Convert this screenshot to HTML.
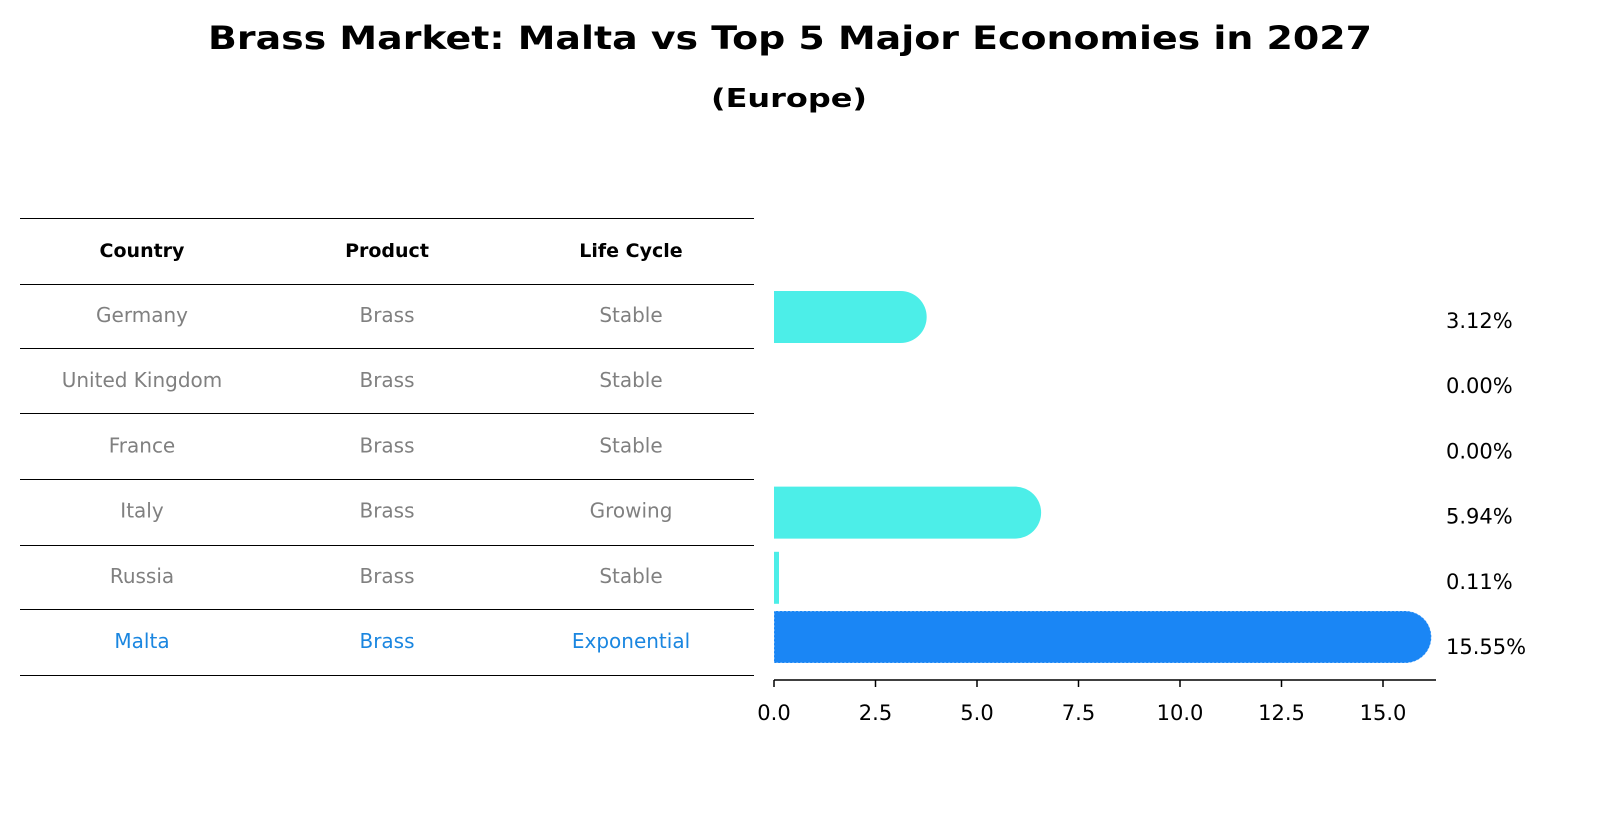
<!DOCTYPE html>
<html><head><meta charset="utf-8"><style>
body{margin:0;background:#fff;width:1604px;height:823px;overflow:hidden}
svg{font-family:"DejaVu Sans","Liberation Sans",sans-serif}
</style></head><body>
<svg id="c" width="1604" height="823">
<text x="790" y="49" text-anchor="middle" font-size="32" font-weight="bold" textLength="1164" lengthAdjust="spacingAndGlyphs">Brass Market: Malta vs Top 5 Major Economies in 2027</text>
<text x="789" y="107" text-anchor="middle" font-size="26" font-weight="bold" textLength="156" lengthAdjust="spacingAndGlyphs">(Europe)</text>
<g id="tbl"></g>
<g id="bars"></g>
</svg>
<script>
const countries=["Germany","United Kingdom","France","Italy","Russia","Malta"];
const products=["Brass","Brass","Brass","Brass","Brass","Brass"];
const lifecycles=["Stable","Stable","Stable","Growing","Stable","Exponential"];
const values=[3.12,0,0,5.94,0.11,15.55];
const ticks=[0,2.5,5,7.5,10,12.5,15];
const NS="http://www.w3.org/2000/svg";
function mk(t,a,p){const e=document.createElementNS(NS,t);for(const k in a)e.setAttribute(k,a[k]);p.appendChild(e);return e;}
const tbl=document.getElementById('tbl'),bars=document.getElementById('bars');
const x=v=>774+v*40.6;
const rowY=i=>315+i*65.2;
const lines=[218,284,348,413,479,545,609,675];
lines.forEach(y=>{const l=mk('line',{x1:20,x2:754,y1:y+0.5,y2:y+0.5,stroke:'#000','stroke-width':1},tbl);

});
const cols=[142,387,631];
["Country","Product","Life Cycle"].forEach((h,j)=>{const t=mk('text',{x:cols[j],y:257,'text-anchor':'middle','font-size':19,'font-weight':'bold'},tbl);t.textContent=h;

});
countries.forEach((c,i)=>{const col=i==5?'#1a86e0':'#808080';
[c,products[i],lifecycles[i]].forEach((s,j)=>{const t=mk('text',{x:cols[j],y:rowY(i)+7,'text-anchor':'middle','font-size':20,fill:col},tbl);t.textContent=s;

});
const v=values[i],cy=i==5?637:rowY(i)+2,h=52,r=26;
if(v>0){const w=x(v)-x(0);let b;
if(i==5||w>r){b=mk('path',{d:`M${x(0)},${cy-h/2}H${x(v)}A${r},${r} 0 0 1 ${x(v)},${cy+h/2}H${x(0)}Z`,fill:i==5?'#1a86f5':'#4ceee8'},bars);
if(i==5){b.setAttribute('stroke','#ffffff');b.setAttribute('stroke-width','1');b.setAttribute('stroke-dasharray','2,2');b.setAttribute('stroke-opacity','0.6');}}
else{b=mk('rect',{x:x(0),y:cy-h/2,width:Math.max(w,5),height:h,fill:'#4ceee8'},bars);}

}
const t=mk('text',{x:1446,y:rowY(i)+13,'font-size':21},bars);t.textContent=v.toFixed(2)+'%';

});
const ax=mk('line',{x1:774,x2:1436,y1:680,y2:680,stroke:'#000','stroke-width':1.5},bars);


ticks.forEach(tv=>{const l=mk('line',{x1:x(tv),x2:x(tv),y1:680,y2:687,stroke:'#000','stroke-width':1.5},bars);


const t=mk('text',{x:x(tv),y:720,'text-anchor':'middle','font-size':21},bars);t.textContent=tv.toFixed(1);

});
</script>
</body></html>
